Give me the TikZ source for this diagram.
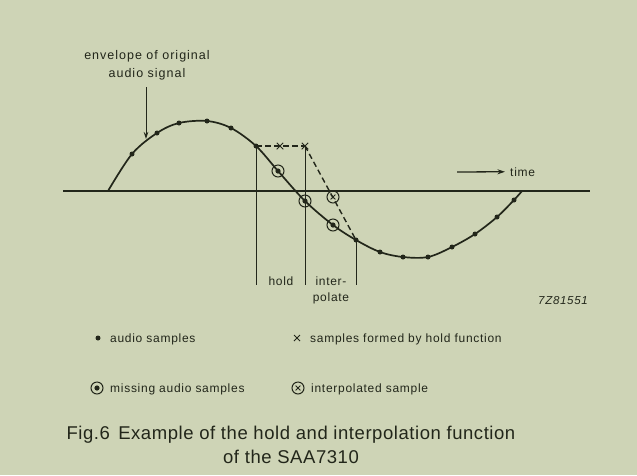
\documentclass[tikz,border=0pt]{standalone}
\usepackage{fontspec}
\setmainfont{Liberation Sans}
\newfontfamily\lblfont[LetterSpace=6]{Liberation Sans}
\newfontfamily\envfont[LetterSpace=8]{Liberation Sans}
\newfontfamily\capfont[LetterSpace=3]{Liberation Sans}
\usetikzlibrary{arrows.meta,shapes.misc}
\definecolor{bg}{RGB}{206,212,182}
\definecolor{ink}{RGB}{34,38,26}
\begin{document}
\begin{tikzpicture}[x=1pt,y=-1pt,
  curve/.style={draw=ink,line width=1.7pt},
  thinln/.style={draw=ink,line width=1pt},
  smp/.style={circle,fill=ink,inner sep=0pt,minimum size=5pt},
  miss/.style={circle,draw=ink,line width=1pt,inner sep=0pt,minimum size=12pt,
    path picture={\fill[ink] (path picture bounding box.center) circle (2.6pt);}},
  ipl/.style={circle,draw=ink,line width=1pt,inner sep=0pt,minimum size=12pt,
    path picture={\draw[ink,line width=0.9pt] (path picture bounding box.center) +(-2.4pt,-2.4pt) -- +(2.4pt,2.4pt) +(-2.4pt,2.4pt) -- +(2.4pt,-2.4pt);}},
  hx/.style={cross out,draw=ink,line width=1pt,inner sep=0pt,minimum size=5.5pt},
  lbl/.style={text=ink,font=\fontsize{12}{14}\lblfont,inner sep=0pt},
  envlbl/.style={text=ink,font=\fontsize{12.5}{15}\envfont,inner sep=0pt},
  captxt/.style={text=ink,font=\fontsize{18.5}{22}\capfont,inner sep=0pt}
]
\fill[bg] (0,0) rectangle (637,475);
\useasboundingbox (0,0) rectangle (637,475);

% axis
\coordinate (axL) at (63,191);
\coordinate (axR) at (590,191);
\draw[thinln,line width=1.3pt] (axL) -- (axR);

% envelope
\draw[curve] plot[smooth,tension=0.55] coordinates {(108,191) (132,154) (157,133) (179,123) (207,121) (231,128) (256,146) (278,171) (305,201) (333,225) (356,240) (380,252) (403,257) (428,257) (452,247) (475,234) (497,217) (514,200) (522,191)};

% audio samples
\foreach \n/\x/\y in {s1/132/154,s2/157/133,s3/179/123,s4/207/121,s5/231/128,s6/256/146,
  s10/356/240,s11/380/252,s12/403/257,s13/428/257,s14/452/247,s15/475/234,s16/497/217,s17/514/200}
  \node[smp] (\n) at (\x,\y) {};

% hold function
\node[hx] (h1) at (280,146) {};
\node[hx] (h2) at (305,146) {};
\draw[ink,line width=1.4pt,dash pattern=on 5.5pt off 3.5pt] (s6.center) -- (h2.center);
\draw[ink,line width=1.4pt,dash pattern=on 5.5pt off 3.5pt] (h2.center) -- (s10.center);

% vertical markers
\coordinate (v1) at (256,285);
\coordinate (v2) at (305,285);
\coordinate (v3) at (356,285);
\draw[thinln] (s6.center) -- (v1);
\draw[thinln] (h2.center) -- (v2);
\draw[thinln] (s10.center) -- (v3);

% missing and interpolated samples
\node[miss] (m1) at (278,171) {};
\node[miss] (m2) at (305,201) {};
\node[miss] (m3) at (333,225) {};
\node[ipl] (i1) at (333,197) {};

% labels
\node[lbl,anchor=base] (hold) at (281,285) {hold};
\node[lbl,anchor=base] (inter) at (331,285) {inter-};
\node[lbl,anchor=base] (polate) at (331,301) {polate};
\node[envlbl,anchor=base] (env1) at (147,59) {envelope of original};
\node[envlbl,anchor=base] (env2) at (147,77) {audio signal};
\coordinate (envT) at (146,87);
\coordinate (envH) at (146,139);
\draw[thinln,-{Stealth[length=7pt,width=4.5pt]}] (envT) -- (envH);

\node[lbl,anchor=base west] (time) at (510,176) {time};
\coordinate (tA) at (457,172);
\draw[thinln,line width=1.3pt,-{Stealth[length=7.5pt,width=5pt]},shorten >=5pt] (tA) -- (time.west);

\node[lbl,anchor=base,font=\fontsize{11.5}{13}\lblfont\itshape] (code) at (563,304) {7Z81551};

% legend
\node[smp] (lg1) at (98,338) {};
\node[lbl,anchor=base west] (lt1) at (110,342) {audio samples};
\node[hx,minimum size=5pt] (lg2) at (297,338) {};
\node[lbl,anchor=base west] (lt2) at (310,342) {samples formed by hold function};
\node[miss] (lg3) at (97,388) {};
\node[lbl,anchor=base west] (lt3) at (110,392) {missing audio samples};
\node[ipl] (lg4) at (298,388) {};
\node[lbl,anchor=base west] (lt4) at (311,392) {interpolated sample};

% caption
\node[captxt,anchor=base] (c1) at (291,439) {Fig.6\hspace{0.45em}Example of the hold and interpolation function};
\node[captxt,anchor=base] (c2) at (291,463) {of the SAA7310};
\end{tikzpicture}
\end{document}
